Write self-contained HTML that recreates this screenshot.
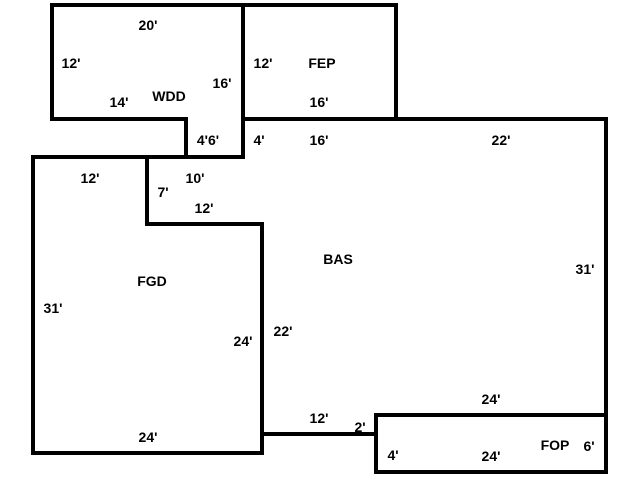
<html><body style="margin:0;background:#fff">
<svg width="640" height="480" xmlns="http://www.w3.org/2000/svg" style="display:block">
<g stroke="#000" stroke-width="4" fill="none" stroke-linecap="square">
<polyline points="243,157 243,5 52,5 52,119 186,119 186,157"/>
<polyline points="243,5 396,5 396,119"/>
<polyline points="243,119 606,119 606,415"/>
<rect x="376" y="415" width="230" height="57"/>
<line x1="262" y1="434" x2="376" y2="434"/>
<polyline points="33,157 243,157"/>
<polyline points="33,157 33,453 262,453 262,224 147,224 147,157"/>
</g>
<g font-family="Liberation Sans, sans-serif" font-weight="bold" font-size="14" text-anchor="middle">
<text x="148" y="30">20'</text>
<text x="71" y="68">12'</text>
<text x="169" y="101">WDD</text>
<text x="119" y="107">14'</text>
<text x="222" y="88">16'</text>
<text x="263" y="68">12'</text>
<text x="322" y="68">FEP</text>
<text x="319" y="107">16'</text>
<text x="208" y="145">4'6'</text>
<text x="259" y="145">4'</text>
<text x="319" y="145">16'</text>
<text x="501" y="145">22'</text>
<text x="90" y="183">12'</text>
<text x="195" y="183">10'</text>
<text x="163" y="197">7'</text>
<text x="204" y="213">12'</text>
<text x="338" y="264">BAS</text>
<text x="585" y="274">31'</text>
<text x="152" y="286">FGD</text>
<text x="53" y="313">31'</text>
<text x="283" y="336">22'</text>
<text x="243" y="346">24'</text>
<text x="491" y="404">24'</text>
<text x="319" y="423">12'</text>
<text x="360" y="432">2'</text>
<text x="148" y="442">24'</text>
<text x="555" y="450">FOP</text>
<text x="589" y="451">6'</text>
<text x="393" y="460">4'</text>
<text x="491" y="461">24'</text>
</g>
</svg>
</body></html>
